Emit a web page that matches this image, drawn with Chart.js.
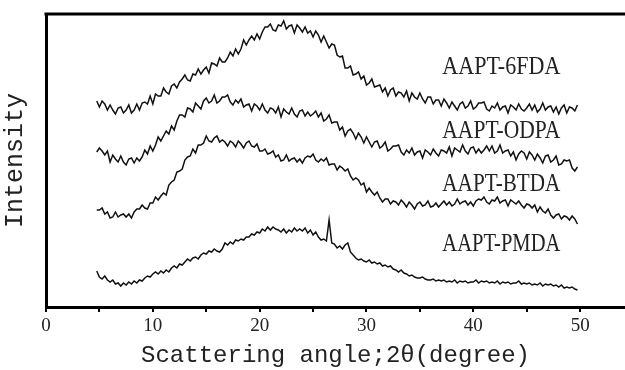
<!DOCTYPE html>
<html>
<head>
<meta charset="utf-8">
<script src="https://cdn.jsdelivr.net/npm/chart.js@4/dist/chart.umd.min.js"></script>
<style>
  html, body { margin: 0; padding: 0; background: #fff; }
  canvas { display: block; }
</style>
</head>
<body>
<canvas id="xrd" width="625" height="370"></canvas>
<script>
// sampling grid: 4.75 .. 49.75 degrees, every 0.25
const angle = Array.from({ length: 181 }, (_, i) => 4.75 + i * 0.25);

// intensities (arbitrary units, curves offset)
const fda6 = [206,
  200, 206, 203, 197,  202, 197, 193, 199,  200, 194, 197, 202,  194, 197, 203, 197,
  204, 205, 203, 211,  203, 213, 211, 211,  219, 215, 213, 221,  223, 219, 225, 228,
  232, 227, 226, 233,  232, 238, 233, 237,  240, 234, 244, 243,  241, 249, 245, 245,
  249, 255, 251, 258,  253, 258, 267, 262,  267, 271, 267, 273,  268, 275, 280, 280,
  283, 277, 276, 282,  281, 286, 278, 281,  282, 274, 282, 279,  275, 280, 274, 276,
  270, 276, 272, 265,  271, 265, 259, 263,  262, 252, 250, 251,  239, 239, 241, 232,
  233, 235, 228, 231,  222, 224, 228, 220,  221, 222, 215, 219,  211, 217, 219, 211,
  215, 214, 210, 216,  206, 214, 210, 208,  214, 208, 204, 210,  210, 203, 207, 207,
  201, 208, 204, 199,  205, 201, 197, 203,  205, 199, 201, 206,  198, 200, 204, 204,
  205, 198, 196, 201,  199, 204, 197, 200,  201, 194, 202, 200,  197, 203, 198, 196,
  199, 203, 197, 202,  195, 198, 204, 197,  200, 201, 195, 200,  193, 199, 202, 194,
  200, 199, 196, 202];

const odpa = [155,
  159, 156, 152, 156,  145, 152, 148, 145,  151, 145, 142, 148,  149, 144, 149, 146,
  150, 157, 153, 161,  156, 162, 170, 166,  171, 176, 173, 181,  177, 186, 192, 192,
  190, 199, 198, 195,  204, 201, 198, 206,  209, 204, 206, 212,  204, 206, 210, 210,
  212, 205, 202, 207,  204, 208, 200, 202,  203, 196, 203, 201,  197, 203, 197, 194,
  199, 198, 194, 200,  190, 198, 195, 193,  199, 193, 190, 196,  197, 191, 195, 191,
  193, 196, 190, 194,  186, 188, 192, 184,  185, 185, 177, 180,  171, 176, 178, 174,
  168, 174, 170, 164,  170, 165, 160, 165,  166, 159, 161, 165,  156, 158, 161, 161,
  162, 155, 152, 157,  154, 159, 152, 155,  156, 149, 157, 155,  152, 158, 154, 151,
  157, 156, 154, 160,  151, 159, 157, 155,  162, 156, 153, 159,  160, 154, 158, 154,
  157, 161, 156, 161,  154, 156, 162, 154,  156, 157, 151, 155,  147, 153, 156, 154,
  148, 155, 152, 147,  153, 149, 144, 151,  152, 145, 147, 151,  142, 143, 147, 146,
  147, 139, 136, 140];

const btda = [97,
  97, 99, 93, 95,  89, 90, 95, 90,  92, 93, 90, 93,  89, 95, 98, 98,
  102, 99, 98, 104,  104, 110, 107, 111,  114, 112, 122, 125,  127, 135, 136, 138,
  147, 150, 151, 158,  154, 162, 162, 164,  171, 166, 165, 169,  171, 165, 167, 165,
  161, 166, 164, 160,  166, 163, 159, 164,  166, 161, 160, 163,  156, 156, 158, 153,
  154, 156, 150, 152,  146, 147, 152, 146,  148, 149, 145, 148,  144, 149, 151, 150,
  153, 147, 145, 148,  146, 149, 142, 143,  143, 137, 141, 139,  136, 138, 131, 127,
  129, 127, 122, 124,  115, 119, 115, 112,  115, 109, 105, 108,  108, 103, 106, 105,
  102, 107, 104, 100,  105, 102, 98, 103,  105, 101, 102, 106,  100, 101, 104, 100,
  103, 106, 102, 105,  101, 103, 108, 103,  105, 106, 102, 105,  101, 106, 108, 107,
  110, 105, 103, 107,  106, 110, 104, 106,  107, 101, 107, 105,  103, 106, 102, 99,
  103, 102, 99, 102,  95, 100, 96, 94,  98, 92, 89, 92,  93, 88, 91, 90,
  87, 91, 88, 83];

const pmda = [36,
  30, 28, 31, 27,  25, 27, 23, 24,  21, 24, 22, 25,  23, 26, 24, 27,
  26, 29, 31, 30,  33, 35, 33, 36,  34, 37, 35, 39,  41, 39, 43, 42,
  45, 48, 46, 49,  50, 48, 52, 54,  53, 56, 55, 58,  56, 55, 58, 64,
  62, 65, 63, 67,  66, 68, 67, 70,  70, 73, 72, 75,  74, 78, 76, 80,
  77, 80, 78, 77,  75, 78, 74, 77,  75, 79, 76, 78,  76, 79, 74, 77,
  72, 75, 70, 67,  68, 66, 87, 64,  63, 59, 61, 58,  62, 64, 55, 52,
  49, 47, 48, 46,  45, 47, 44, 45,  43, 44, 41, 42,  40, 41, 38, 37,
  35, 37, 34, 33,  31, 32, 30, 29,  29, 30, 28, 27,  27, 28, 26, 27,
  26, 27, 25, 26,  25, 27, 24, 26,  25, 26, 24, 25,  25, 27, 24, 26,
  25, 26, 24, 25,  24, 26, 23, 25,  24, 25, 23, 24,  24, 26, 23, 24,
  23, 24, 22, 23,  22, 24, 21, 23,  22, 23, 21, 22,  20, 22, 19, 20,
  19, 20, 18, 17];

const sampleNames = ['AAPT-6FDA', 'AAPT-ODPA', 'AAPT-BTDA', 'AAPT-PMDA'];
const xTicks = [0, 10, 20, 30, 40, 50];

// where the sample names sit, in data units
const namePos = [
  { x: 37.1, y: 240 },
  { x: 37.1, y: 176 },
  { x: 37.1, y: 123 },
  { x: 37.1, y: 63 }
];

function toPoints(values) {
  return values.map((v, i) => ({ x: angle[i], y: v }));
}

const frameAndNames = {
  id: 'frameAndNames',
  afterDraw(chart) {
    const { ctx, chartArea, scales } = chart;
    ctx.save();
    // top frame line
    ctx.strokeStyle = '#000';
    ctx.lineWidth = 3;
    ctx.beginPath();
    ctx.moveTo(chartArea.left - 1.5, chartArea.top);
    ctx.lineTo(chartArea.right, chartArea.top);
    ctx.stroke();

    ctx.fillStyle = '#222';
    ctx.font = '26px "Liberation Serif"';
    ctx.textBaseline = 'middle';
    ctx.textAlign = 'left';
    sampleNames.forEach((name, i) => {
      const px = scales.x.getPixelForValue(namePos[i].x);
      const py = scales.y.getPixelForValue(namePos[i].y);
      ctx.fillText(name, px, py, 118);
    });
    ctx.restore();
  }
};

const series = [fda6, odpa, btda, pmda];

new Chart(document.getElementById('xrd').getContext('2d'), {
  type: 'line',
  data: {
    datasets: series.map((s, i) => ({
      label: sampleNames[i],
      data: toPoints(s),
      borderColor: '#111',
      borderWidth: 1.5,
      pointRadius: 0,
      tension: 0,
      fill: false
    }))
  },
  options: {
    responsive: false,
    animation: false,
    layout: { padding: { top: 14, right: 0, left: 0, bottom: 0 } },
    plugins: {
      legend: { display: false },
      tooltip: { enabled: false }
    },
    scales: {
      x: {
        type: 'linear',
        min: 0,
        max: 54.2,
        afterBuildTicks: scale => {
          scale.ticks = [0, 5, 10, 15, 20, 25, 30, 35, 40, 45, 50].map(v => ({ value: v }));
        },
        afterFit: scale => { scale.height = 63; },
        ticks: {
          autoSkip: false,
          maxRotation: 0,
          padding: 3,
          color: '#222',
          font: { family: '"Liberation Serif"', size: 19 },
          callback: v => (xTicks.includes(v) ? String(v) : '')
        },
        grid: {
          drawOnChartArea: false,
          drawTicks: true,
          tickLength: 5,
          lineWidth: 2,
          color: '#000'
        },
        border: { display: true, width: 3, color: '#000' },
        title: {
          display: true,
          text: 'Scattering angle;2θ(degree)',
          color: '#222',
          font: { family: '"Liberation Mono"', size: 24 },
          padding: { top: 0, bottom: 0 }
        }
      },
      y: {
        min: 0,
        max: 293,
        afterFit: scale => { scale.width = 46; },
        ticks: { display: false },
        grid: { display: false },
        border: { display: true, width: 3, color: '#000' },
        title: {
          display: true,
          text: 'Intensity',
          color: '#222',
          font: { family: '"Liberation Mono"', size: 25 },
          padding: { top: 0, bottom: 0 }
        }
      }
    }
  },
  plugins: [frameAndNames]
});
</script>
</body>
</html>
